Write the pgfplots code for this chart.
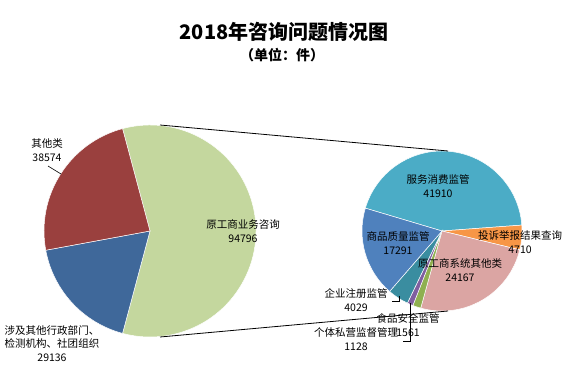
\documentclass[border=0pt]{standalone}
\usepackage{fontspec}
\setmainfont{Noto Sans CJK SC}
\usepackage{pgfplots}
\pgfplotsset{compat=1.18}
\usepackage{pgfplotstable}

\pgfplotstableread{
name value
原工商业务咨询 94796
涉及其他行政部门检测机构社团组织 29136
其他类 38574
}\leftpie

\pgfplotstableread{
name value
服务消费监管 41910
投诉举报结果查询 4710
原工商系统其他类 24167
食品安全监管 1561
个体私营监督管理 1128
企业注册监管 4029
商品质量监管 17291
}\rightpie

\definecolor{cLa}{HTML}{C4D79E}
\definecolor{cLb}{HTML}{3F689A}
\definecolor{cLc}{HTML}{9A403E}
\definecolor{cRa}{HTML}{4BACC6}
\definecolor{cRb}{HTML}{F79646}
\definecolor{cRc}{HTML}{DBA5A3}
\definecolor{cRd}{HTML}{8FB050}
\definecolor{cRe}{HTML}{7F5FA0}
\definecolor{cRf}{HTML}{3A8DA0}
\definecolor{cRg}{HTML}{4F81BD}

\newcommand\pieval[3]{\pgfplotstablegetelem{#2}{value}\of{#1}\xdef#3{\pgfplotsretval}}

\begin{document}
\begin{tikzpicture}
\pieval{\leftpie}{0}{\vLa}\pieval{\leftpie}{1}{\vLb}\pieval{\leftpie}{2}{\vLc}%
\pieval{\rightpie}{0}{\vRa}\pieval{\rightpie}{1}{\vRb}\pieval{\rightpie}{2}{\vRc}%
\pieval{\rightpie}{3}{\vRd}\pieval{\rightpie}{4}{\vRe}\pieval{\rightpie}{5}{\vRf}%
\pieval{\rightpie}{6}{\vRg}%
\xdef\Ltot{\fpeval{\vLa+\vLb+\vLc}}%
\xdef\La{\fpeval{180*\vLa/\Ltot}}%
\xdef\Lb{\fpeval{\La-360*\vLa/\Ltot}}%
\xdef\Lc{\fpeval{\Lb-360*\vLb/\Ltot}}%
\xdef\Ld{\fpeval{\Lc-360*\vLc/\Ltot}}%
\xdef\Rtot{\fpeval{\vRa+\vRb+\vRc+\vRd+\vRe+\vRf+\vRg}}%
\xdef\Ra{163.4}%
\xdef\Rb{\fpeval{\Ra-360*\vRa/\Rtot}}%
\xdef\Rc{\fpeval{\Rb-360*\vRb/\Rtot}}%
\xdef\Rd{\fpeval{\Rc-360*\vRc/\Rtot}}%
\xdef\Re{\fpeval{\Rd-360*\vRd/\Rtot}}%
\xdef\Rf{\fpeval{\Re-360*\vRe/\Rtot}}%
\xdef\Rg{\fpeval{\Rf-360*\vRf/\Rtot}}%
\xdef\Rh{\fpeval{\Rg-360*\vRg/\Rtot}}%
\begin{axis}[x=1pt,y=1pt,xmin=0,xmax=578,ymin=0,ymax=389,hide axis,clip=false,
  anchor=origin, at={(0,0)}]
\path (axis cs:0,0) rectangle (axis cs:578,389);
% left pie
\filldraw[fill=cLa,draw=white,line width=0.5pt] (axis cs:150,158) -- ++(\La:106pt) arc[start angle=\La,end angle=\Lb,radius=106pt] -- cycle;
\filldraw[fill=cLb,draw=white,line width=0.5pt] (axis cs:150,158) -- ++(\Lb:106pt) arc[start angle=\Lb,end angle=\Lc,radius=106pt] -- cycle;
\filldraw[fill=cLc,draw=white,line width=0.5pt] (axis cs:150,158) -- ++(\Lc:106pt) arc[start angle=\Lc,end angle=\Ld,radius=106pt] -- cycle;
% right pie
\filldraw[fill=cRa,draw=white,line width=0.5pt] (axis cs:442,158) -- ++(\Ra:80pt) arc[start angle=\Ra,end angle=\Rb,radius=80pt] -- cycle;
\filldraw[fill=cRb,draw=white,line width=0.5pt] (axis cs:442,158) -- ++(\Rb:80pt) arc[start angle=\Rb,end angle=\Rc,radius=80pt] -- cycle;
\filldraw[fill=cRc,draw=white,line width=0.5pt] (axis cs:442,158) -- ++(\Rc:80pt) arc[start angle=\Rc,end angle=\Rd,radius=80pt] -- cycle;
\filldraw[fill=cRd,draw=white,line width=0.5pt] (axis cs:442,158) -- ++(\Rd:80pt) arc[start angle=\Rd,end angle=\Re,radius=80pt] -- cycle;
\filldraw[fill=cRe,draw=white,line width=0.5pt] (axis cs:442,158) -- ++(\Re:80pt) arc[start angle=\Re,end angle=\Rf,radius=80pt] -- cycle;
\filldraw[fill=cRf,draw=white,line width=0.5pt] (axis cs:442,158) -- ++(\Rf:80pt) arc[start angle=\Rf,end angle=\Rg,radius=80pt] -- cycle;
\filldraw[fill=cRg,draw=white,line width=0.5pt] (axis cs:442,158) -- ++(\Rg:80pt) arc[start angle=\Rg,end angle=\Rh,radius=80pt] -- cycle;
% connector lines
\draw[black,line width=0.8pt] (axis cs:160,264) -- (axis cs:448,238);
\draw[black,line width=0.8pt] (axis cs:160,52) -- (axis cs:448,78);
% leader lines
\draw[black,line width=0.6pt] (axis cs:48,223) -- (axis cs:61,215);
\draw[black,line width=0.6pt] (axis cs:392,88) -- (axis cs:399,88) -- (axis cs:399,93);
\draw[black,line width=0.6pt] (axis cs:403,48) -- (axis cs:410,48) -- (axis cs:410,86);
% titles
\node[font=\fontsize{20}{22}\selectfont\bfseries] at (axis cs:284,357) {2018年咨询问题情况图};
\node[font=\fontsize{14}{16}\selectfont\bfseries] at (axis cs:282,334) {（单位：件）};
% labels
\tikzset{lab/.style={align=center,inner sep=0pt,font=\fontsize{10.5}{14}\selectfont}}
\node[lab] at (axis cs:47,239) {其他类\\38574};
\node[lab] at (axis cs:243,158) {原工商业务咨询\\94796};
\node[lab,font=\fontsize{10.5}{13.5}\selectfont] at (axis cs:52,45.5) {涉及其他行政部门、\\检测机构、社团组织\\29136};
\node[lab] at (axis cs:438,203) {服务消费监管\\41910};
\node[lab] at (axis cs:520,147) {投诉举报结果查询\\4710};
\node[lab] at (axis cs:460,118.5) {原工商系统其他类\\24167};
\node[lab] at (axis cs:398,146) {商品质量监管\\17291};
\node[lab] at (axis cs:356,88.5) {企业注册监管\\4029};
\node[lab] at (axis cs:408,63.5) {食品安全监管\\1561};
\node[lab] at (axis cs:356,49.5) {个体私营监督管理\\1128};
\end{axis}
\end{tikzpicture}
\end{document}
